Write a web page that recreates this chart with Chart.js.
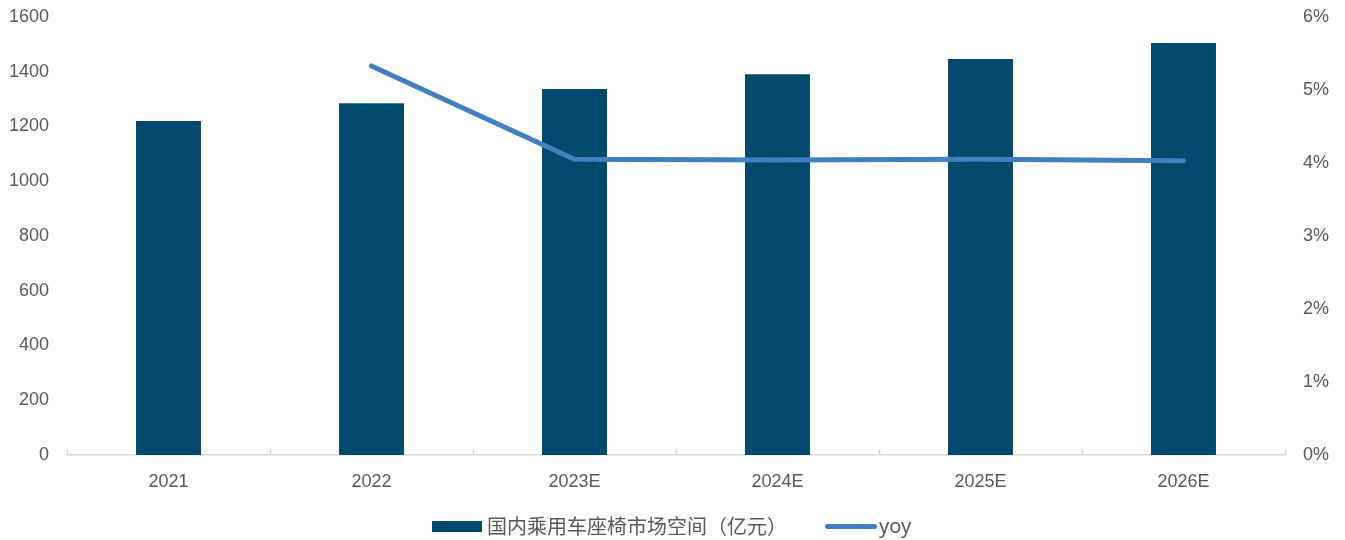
<!DOCTYPE html>
<html>
<head>
<meta charset="utf-8">
<script src="https://cdn.jsdelivr.net/npm/chart.js@4"></script>
<style>
  html, body { margin: 0; padding: 0; background: #fff; }
  #wrap { position: relative; width: 1345px; height: 540px; }
  canvas { display: block; }
  #legend {
    position: absolute;
    top: 514px;
    left: 432px;
    display: flex;
    align-items: center;
    font-size: 20px;
    color: #595959;
    line-height: 24px;
  }
  .item { display: flex; align-items: center; }
  .swatch-bar { width: 50px; height: 11px; margin-right: 5px; }
  .swatch-line { width: 52px; height: 5px; border-radius: 3px; margin-right: 2px; }
  .cjk { font-family: "Noto Sans CJK SC", sans-serif; }
  .latin { font-family: "Noto Sans", sans-serif; }
</style>
</head>
<body>
<div id="wrap">
  <canvas id="myChart" width="1345" height="540"></canvas>
  <div id="legend"></div>
</div>
<script>
const years = ["2021", "2022", "2023E", "2024E", "2025E", "2026E"];
const marketSize = [1220, 1285, 1337, 1391, 1447, 1505]; // 亿元
const yoy = [null, 5.33, 4.05, 4.04, 4.05, 4.03]; // %
const leftTicks = [0, 200, 400, 600, 800, 1000, 1200, 1400, 1600];
const rightTicks = [0, 1, 2, 3, 4, 5, 6];

const barLabel = "国内乘用车座椅市场空间（亿元）";
const lineLabel = "yoy";

const barColor = "#004A6F";
const lineColor = "#4080C0";
const textColor = "#595959";
const axisColor = "#D9D9D9";

const font = "'Liberation Sans', Arial, sans-serif";

// small upward tick marks on the category boundaries
const upTicks = {
  id: "upTicks",
  afterDraw(chart) {
    const x = chart.scales.x;
    const { ctx, chartArea } = chart;
    const step = (chartArea.right - chartArea.left) / years.length;
    ctx.save();
    ctx.strokeStyle = axisColor;
    ctx.lineWidth = 1.5;
    for (let i = 0; i <= years.length; i++) {
      const px = Math.round(chartArea.left + i * step) + 0.5;
      ctx.beginPath();
      ctx.moveTo(px, x.top);
      ctx.lineTo(px, x.top - 6);
      ctx.stroke();
    }
    ctx.restore();
  },
};

// fixed side width, no extra label overflow padding
function fitSide(width) {
  return (axis) => {
    axis.width = width;
    axis.paddingTop = 0;
    axis.paddingBottom = 0;
  };
}

const ctx = document.getElementById("myChart");

new Chart(ctx, {
  data: {
    labels: years,
    datasets: [
      {
        type: "line",
        label: lineLabel,
        data: yoy,
        yAxisID: "y1",
        borderColor: lineColor,
        backgroundColor: lineColor,
        borderWidth: 5,
        borderCapStyle: "round",
        pointRadius: 0,
        tension: 0,
        order: 0,
      },
      {
        type: "bar",
        label: barLabel,
        data: marketSize,
        yAxisID: "y",
        backgroundColor: barColor,
        borderWidth: 0,
        categoryPercentage: 1,
        barPercentage: 0.32,
        order: 1,
      },
    ],
  },
  options: {
    responsive: false,
    animation: false,
    devicePixelRatio: 1,
    layout: { padding: { top: 17, left: 0, right: 0, bottom: 0 } },
    plugins: {
      tooltip: { enabled: false },
      legend: { display: false },
    },
    scales: {
      x: {
        offset: true,
        grid: { display: false },
        border: { display: true, color: axisColor, width: 1.5 },
        afterFit(axis) {
          axis.height = 85;
        },
        ticks: {
          color: textColor,
          font: { family: font, size: 18 },
          padding: 8,
          maxRotation: 0,
        },
      },
      y: {
        position: "left",
        min: 0,
        max: 1600,
        afterBuildTicks(axis) {
          axis.ticks = leftTicks.map((v) => ({ value: v }));
        },
        afterFit: fitSide(67),
        grid: { display: false },
        border: { display: false },
        ticks: {
          color: textColor,
          font: { family: font, size: 18 },
          padding: 10,
          callback: (v) => String(v),
        },
      },
      y1: {
        position: "right",
        min: 0,
        max: 6,
        afterBuildTicks(axis) {
          axis.ticks = rightTicks.map((v) => ({ value: v }));
        },
        afterFit: fitSide(60),
        grid: { display: false },
        border: { display: false },
        ticks: {
          color: textColor,
          font: { family: font, size: 18 },
          padding: 10,
          callback: (v) => v + "%",
        },
      },
    },
  },
  plugins: [upTicks],
});

// legend under the chart
const legend = document.getElementById("legend");
legend.innerHTML =
  `<div class="item"><span class="swatch-bar" style="background:${barColor}"></span>` +
  `<span class="cjk">${barLabel}</span></div>` +
  `<div class="item" style="margin-left:38px"><span class="swatch-line" style="background:${lineColor}"></span>` +
  `<span class="latin">${lineLabel}</span></div>`;
</script>
</body>
</html>
